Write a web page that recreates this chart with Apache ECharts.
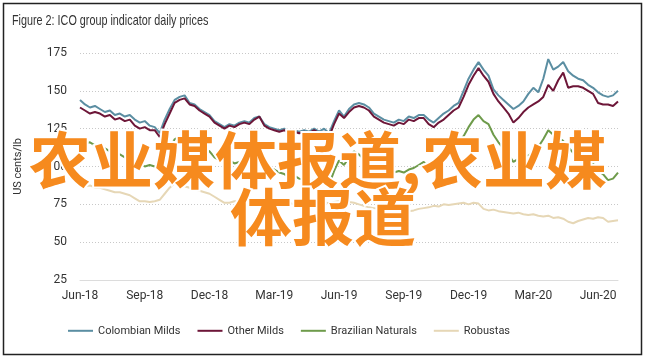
<!DOCTYPE html>
<html><head><meta charset="utf-8">
<script src="https://cdn.jsdelivr.net/npm/echarts@6/dist/echarts.min.js"></script>
<style>html,body{margin:0;padding:0;background:#fff}#c{width:646px;height:360px}</style>
</head><body><div id="c"></div>
<script>
// Weekly observations starting 2018-06-01
var startDate = '2018-06-01';
var numWeeks = 109;
var tickLabels = ['Jun-18','Sep-18','Dec-18','Mar-19','Jun-19','Sep-19','Dec-19','Mar-20','Jun-20'];
var yTicks = [25,50,75,100,125,150,175];
var seriesNames = ['Colombian Milds','Other Milds','Brazilian Naturals','Robustas'];
var seriesColors = ['#5b8ea2','#6d1638','#6e9b4b','#e6d7b6'];

var colombianMilds = [144,141,139,140,138,136,137,134,135,133,134,131,129,130,127,126,122,131,138,144,
146,147,142,141,138,136,134,130,128,126,128,127,129,130,129,132,133,128,126,125,
124,125,123,124,123,124,123,125,123,125,122,130,137,133,138,141,142,141,139,135,
133,131,130,129,131,130,133,132,134,134,131,129,132,135,137,140,142,150,158,164,
169,164,160,151,147,144,141,138,140,143,148,152,149,158,171,164,166,169,163,160,
158,157,154,152,149,147,146,147,150];
var otherMilds = [139,137,135,136,135,133,134,131,132,130,131,127,125,126,124,124,119.5,128,135,142,
144,145,141,140,137,135,133,129,127,125,127,126,128,129,128,131,133,127,125,124,
123,124,122,123,122,123,122,124,122,123,119.5,128,135,132,136,139,140,139,137,133,
131,129,128,127,129,128,131,130,132,132,128,126,129,131,134,137,139,146,154,160,
165,160,156,148,143,139,135,129,132,136,139,141,143,146,154,150,157,162,152,153,
153,152,150,148,142,141,141,140,143];
var brazilianNaturals = [119,115,116,114,113,112,110,109,108,106,104,103,102,100,101,100,98,105,112,118,
120,121,118,117,114,112,110,106,104,103,104,102,103,104,103,105,104,100,99,98,
96,95,93,94,92,91,90,91,89,90,88,97,104,101,106,110,108,105,103,101,
100,98,97,96,97,96,98,99,101,103,100,99,103,106,109,112,116,120,126,131,
134,130,128,121,116,112,108,103,105,108,107,110,113,118,124,121,119,117,113,109,
106,104,103,102,97,95,91,92,96];
var robustas = [88,87,87.5,86,86,85,84,83,83,82,81,79,77,77,76.5,77,78,82,86,89,
88,87,86,85,84,83,82,80,78,76,76,77,77,76.5,77.5,78,79,78,77,76,
76.5,75.5,76,75,75.5,74.5,75,76,75,76.5,75.5,76.5,77,76,76.5,76,75,74,73,72.5,
72,71,70.5,70,70.5,70,70.5,71,72,72.5,73,74,73.5,75,74.5,75,75.5,76,75,76,
75.5,72,71,71.5,70.5,70,69.5,69,69.5,68.5,68,68.5,67.5,67,67.5,66,66.5,65.5,63.5,62.5,
64,65,66,65.5,66.5,66,63.5,64,64.5];

var categories = [];
(function(){
  var d0 = new Date(startDate + 'T00:00:00Z');
  for (var i = 0; i < numWeeks; i++) {
    var d = new Date(d0.getTime() + i * 7 * 86400000);
    categories.push(d.toISOString().slice(0,10));
  }
})();

var FONT = "'Roboto','Liberation Sans',sans-serif";
var chart = echarts.init(document.getElementById('c'));
function mk(name, data, z) {
  return {name:name, type:'line', data:data, symbol:'emptyCircle', showSymbol:false,
    lineStyle:{width:2}, z:z};
}
chart.setOption({
  animation:false,
  backgroundColor:'#fff',
  color:seriesColors,
  grid:{left:80, right:28, top:53, bottom:80},
  xAxis:{type:'category', data:categories, boundaryGap:false,
    axisLine:{show:true, lineStyle:{color:'#dcdcdc', width:1}},
    axisTick:{show:false},
    splitLine:{show:false},
    axisLabel:{interval:function(i){return i % 13 === 0;}, formatter:function(v, i){return tickLabels[Math.round(i/13)] || '';},
      fontFamily:FONT, fontSize:12, color:'#333', margin:10}},
  yAxis:{type:'value', min:yTicks[0], max:yTicks[yTicks.length-1], interval:25,
    name:'US cents/lb', nameLocation:'middle', nameGap:56, nameRotate:90,
    nameTextStyle:{fontFamily:FONT, fontSize:11, color:'#333'},
    axisLine:{show:false}, axisTick:{show:false},
    axisLabel:{fontFamily:FONT, fontSize:12, color:'#333', margin:13},
    splitLine:{show:true, lineStyle:{color:'#c8c8c8', type:[1,2], width:1}}},
  legend:{top:320, left:62, itemWidth:25, itemHeight:12, itemGap:16,
    itemStyle:{opacity:0},
    textStyle:{fontFamily:FONT, fontSize:11, color:'#333'},
    data:seriesNames},
  series:[
    mk(seriesNames[0], colombianMilds, 4),
    mk(seriesNames[1], otherMilds, 5),
    mk(seriesNames[2], brazilianNaturals, 3),
    mk(seriesNames[3], robustas, 2)
  ],
  graphic:[
    {type:'text', x:12, y:21, scaleX:0.72, z:50, style:{text:'Figure 2: ICO group indicator daily prices', fill:'#333',
      font:"normal 15px 'Liberation Sans'", textAlign:'left', textVerticalAlign:'middle'}},
    {type:'rect', shape:{x:3.5, y:3.5, width:638, height:351}, style:{fill:'none', stroke:'#222', lineWidth:1.5}, silent:true, z:100},
    {type:'text', x:318, y:160, z:200, style:{text:'农业媒体报道,农业媒', fill:'#f68a1e', stroke:'#fff', lineWidth:4,
      font:"bold 62px 'Noto Sans CJK SC'", textAlign:'center', textVerticalAlign:'middle'}},
    {type:'text', x:323, y:217, z:200, style:{text:'体报道', fill:'#f68a1e', stroke:'#fff', lineWidth:4,
      font:"bold 62px 'Noto Sans CJK SC'", textAlign:'center', textVerticalAlign:'middle'}}
  ]
});
</script></body></html>
